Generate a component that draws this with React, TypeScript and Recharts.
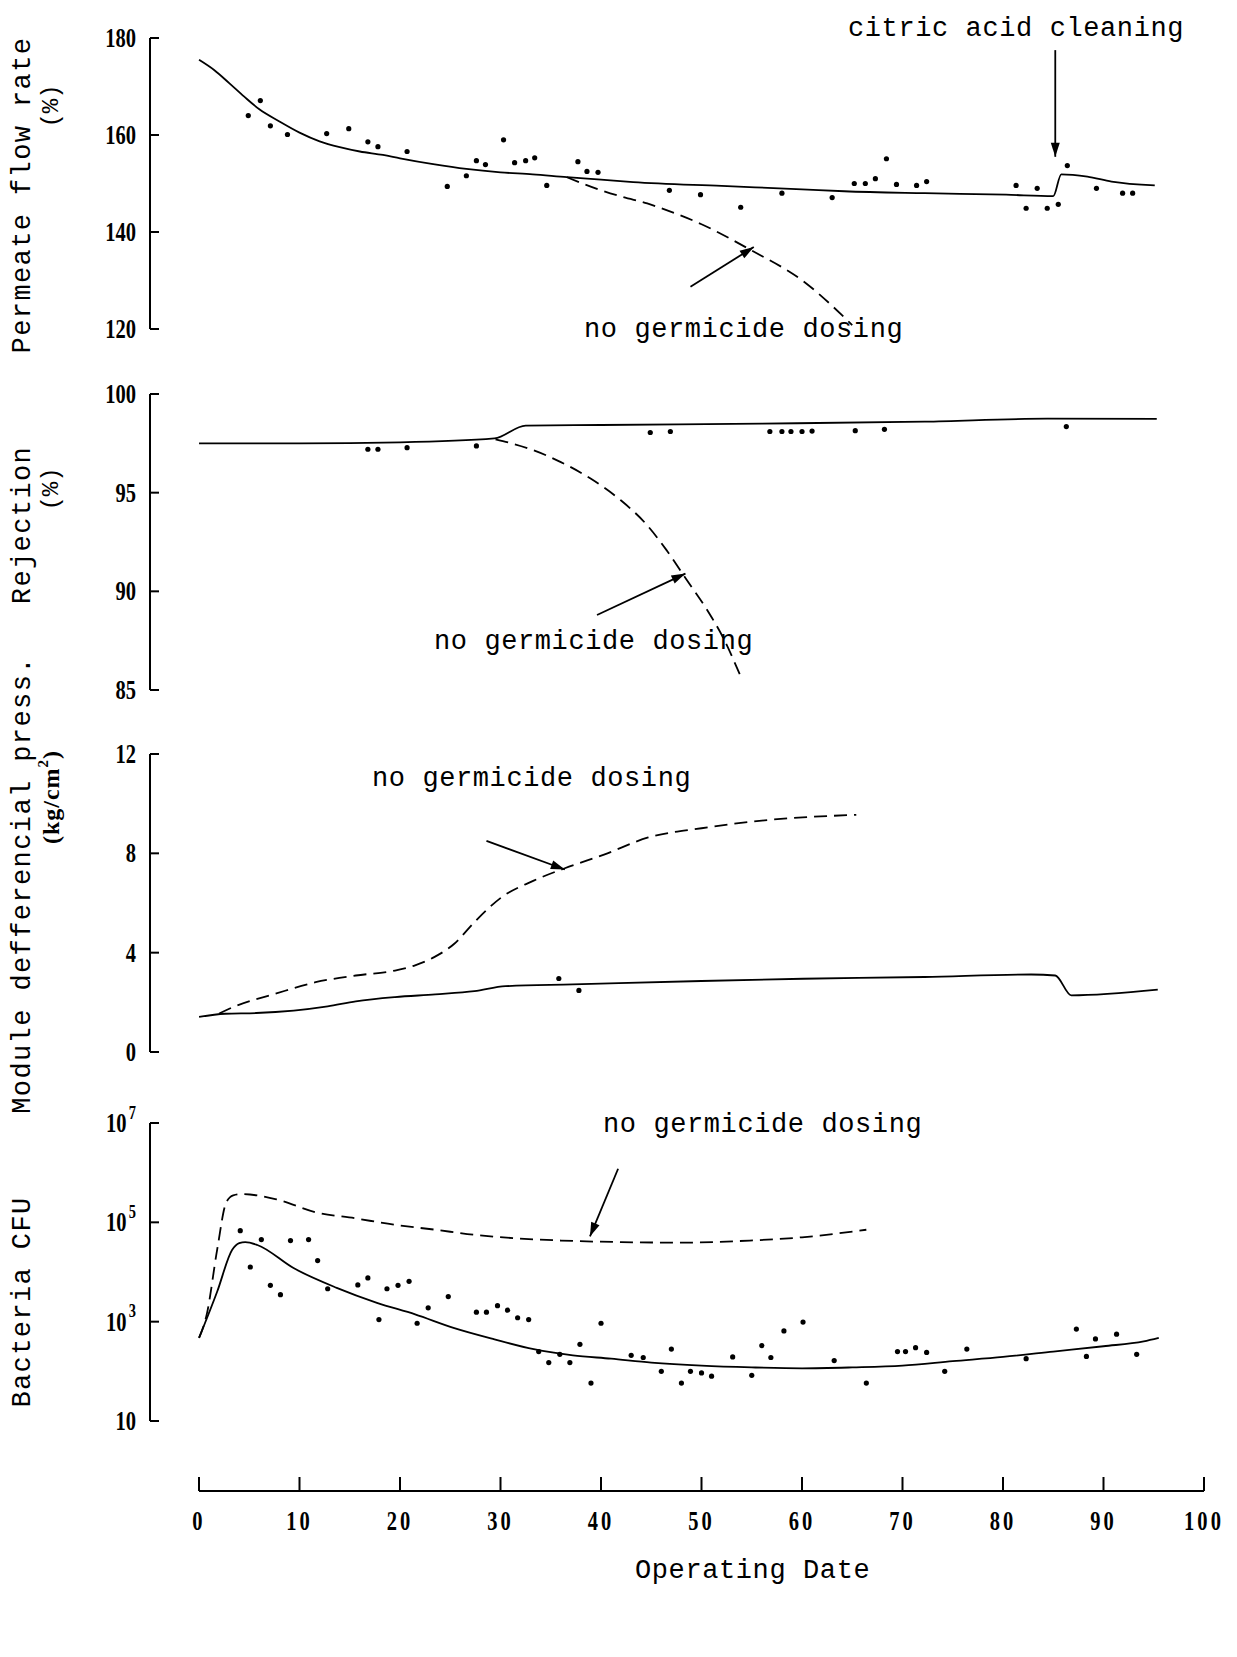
import React from "react";
import { ComposedChart, LineChart, Line, Scatter, XAxis, YAxis, ReferenceLine } from "recharts";

// [day, value] pairs
const flowSolid: [number, number][] = [[0,175.5],[1.5,173.4],[3,170.7],[4.5,167.9],[6,165.3],[8,162.8],[10,160.5],[12,158.7],[14,157.5],[16,156.6],[18.3,155.9],[20,155.2],[23.3,154],[26.6,153],[30,152.3],[33.2,151.9],[36.6,151.3],[40,150.8],[43.2,150.3],[52,149.5],[60,148.8],[64.2,148.4],[72.2,148],[80.3,147.7],[85,147.4],[85.8,151.9],[88.4,151.4],[90.8,150.4],[95.1,149.6]];
const flowNoDose: [number, number][] = [[36.6,151.3],[40,148.6],[42.2,147.2],[44.6,145.9],[46,144.9],[50,141.6],[54.8,136.4],[60.1,129.9],[65,120.8]];
const flowDots: [number, number][] = [[4.9,164],[6.1,167.1],[7.1,161.9],[8.8,160.1],[12.7,160.3],[14.9,161.3],[16.8,158.6],[17.8,157.6],[20.7,156.6],[24.7,149.4],[26.6,151.6],[27.6,154.7],[28.5,153.9],[30.3,159],[31.4,154.3],[32.5,154.7],[33.4,155.3],[34.6,149.6],[37.7,154.5],[38.6,152.5],[39.7,152.3],[46.8,148.6],[49.9,147.7],[53.9,145.1],[58,148],[63,147.1],[65.2,150],[66.3,150],[67.3,151],[68.4,155.1],[69.4,149.8],[71.4,149.6],[72.4,150.4],[81.3,149.6],[82.3,144.9],[83.4,149],[84.4,144.9],[85.5,145.7],[86.4,153.7],[89.3,149],[91.9,148],[92.9,148]];

const rejSolid: [number, number][] = [[0,97.5],[10,97.5],[20,97.55],[29.4,97.75],[32.5,98.4],[40,98.43],[56,98.5],[72.2,98.6],[84.4,98.75],[95.3,98.74]];
const rejNoDose: [number, number][] = [[29.5,97.7],[33,97.2],[36,96.55],[39,95.7],[42,94.6],[44.5,93.4],[46.5,92.1],[48.5,90.6],[50.5,89.1],[52.2,87.6],[53.8,85.8]];
const rejDots: [number, number][] = [[16.8,97.2],[17.8,97.2],[20.7,97.28],[27.6,97.37],[44.9,98.05],[46.9,98.1],[56.8,98.1],[58,98.1],[58.9,98.1],[60,98.1],[61,98.12],[65.3,98.14],[68.2,98.21],[86.3,98.35]];

const dpSolid: [number, number][] = [[0,1.41],[2.6,1.54],[5.7,1.57],[12.8,1.84],[15.6,2.04],[19.5,2.21],[23.5,2.32],[27.4,2.45],[30.5,2.65],[37.2,2.72],[50,2.86],[60.1,2.95],[72.2,3.02],[82.8,3.12],[85.2,3.08],[86.8,2.28],[95.4,2.51]];
const dpNoDose: [number, number][] = [[2,1.55],[3.4,1.81],[7.7,2.36],[11.6,2.81],[15.6,3.08],[19.5,3.28],[21.5,3.49],[23.4,3.82],[25.4,4.36],[27.4,5.23],[30.1,6.23],[33.3,6.9],[36.4,7.4],[40.3,7.95],[44.7,8.64],[50,9.01],[56,9.32],[65.4,9.55]];
const dpDots: [number, number][] = [[35.8,2.96],[37.8,2.48]];

const cfuSolid: [number, number][] = [[0,470],[1.8,4000],[3.3,28000],[4,38000],[4.6,40000],[5.8,35000],[9.4,12000],[13.7,4800],[17.7,2400],[21.5,1400],[25.4,740],[29.4,440],[33.3,280],[37.2,210],[41,180],[45,150],[50,130],[55,120],[60,115],[65,120],[70,130],[75,160],[80,195],[85,250],[90,320],[94,400],[95.5,470]];
const cfuNoDose: [number, number][] = [[0,470],[0.8,1500],[1.8,28000],[2.7,250000],[3.4,350000],[4.2,370000],[7.7,290000],[11.6,160000],[15.6,120000],[19.5,89000],[23.5,71000],[27.4,56000],[31.3,48000],[36,43000],[42,40000],[48,39000],[54.8,43000],[60,50000],[66.4,71000]];
const cfuDots: [number, number][] = [[4.1,68000],[5.1,12600],[6.2,45000],[7.1,5400],[8.1,3500],[9.1,43000],[10.9,45000],[11.8,17000],[12.8,4600],[15.8,5500],[16.8,7600],[17.9,1100],[18.7,4600],[19.8,5400],[20.9,6500],[21.7,930],[22.8,1900],[24.8,3200],[27.6,1550],[28.6,1550],[29.7,2100],[30.7,1700],[31.7,1200],[32.8,1100],[33.8,250],[34.8,150],[35.9,220],[36.9,150],[37.9,350],[39,58],[40,930],[43,210],[44.2,190],[46,100],[47,280],[48,58],[48.9,100],[50,93],[51,80],[53.1,195],[55,83],[56,330],[56.9,190],[58.2,650],[60.1,980],[63.2,165],[66.4,58],[69.5,250],[70.3,250],[71.3,300],[72.4,240],[74.2,100],[76.4,280],[82.3,180],[87.3,710],[88.3,200],[89.2,450],[91.3,560],[93.3,220]];

const xTicks = [0, 10, 20, 30, 40, 50, 60, 70, 80, 90, 100];
const flowTicks = [120, 140, 160, 180];
const rejTicks = [85, 90, 95, 100];
const dpTicks = [0, 4, 8, 12];
const cfuTicks = [10, 1000, 100000, 10000000];

const pts = (a: [number, number][]) => a.map(([d, v]) => ({ d, v }));

const MONO = "'Liberation Mono', 'DejaVu Sans Mono', monospace";
const NUM = "'Liberation Serif', 'DejaVu Serif', serif";

function NumTick(props: any) {
  const { x, y, payload, textAnchor, spacing } = props;
  return (
    <text transform={`translate(${x},${y}) scale(0.76,1)`} textAnchor={textAnchor} dominantBaseline="central" fill="#000" fontSize={27} fontFamily={NUM} fontWeight={700} letterSpacing={spacing || 0}>
      {payload.value}
    </text>
  );
}

function LogTick(props: any) {
  const { x, y, payload } = props;
  const e = Math.round(Math.log10(payload.value));
  return (
    <text transform={`translate(${x},${y}) scale(0.76,1)`} textAnchor="end" dominantBaseline="central" fill="#000" fontSize={27} fontFamily={NUM} fontWeight={700}>
      10
      {e > 1 && (
        <tspan dx={3} dy={-11} fontSize={19}>
          {e}
        </tspan>
      )}
    </text>
  );
}

function arrowShape(p: any) {
  const { x1, y1, x2, y2 } = p;
  const a = Math.atan2(y2 - y1, x2 - x1);
  const L = 14, W = 4.5;
  const bx = x2 - L * Math.cos(a), by = y2 - L * Math.sin(a);
  const poly = `${x2},${y2} ${bx - W * Math.sin(a)},${by + W * Math.cos(a)} ${bx + W * Math.sin(a)},${by - W * Math.cos(a)}`;
  return (
    <g>
      <line x1={x1} y1={y1} x2={x2} y2={y2} stroke="#000" strokeWidth={1.8} />
      <polygon points={poly} fill="#000" />
    </g>
  );
}

const dotShape = (p: any) => <circle cx={p.cx} cy={p.cy} r={2.6} fill="#000" />;

// plot area spans top+30 .. top+height-30
function Panel(props: {
  top: number;
  height: number;
  domain: [number, number];
  ticks: number[];
  log?: boolean;
  children: React.ReactNode;
}) {
  return (
    <div style={{ position: "absolute", left: 0, top: props.top }}>
      <ComposedChart width={1237} height={props.height} margin={{ top: 30, right: 33, bottom: 30, left: 0 }}>
        <XAxis dataKey="d" type="number" domain={[-4.88, 100]} hide allowDataOverflow />
        <YAxis
          dataKey="v"
          type="number"
          width={150}
          domain={props.domain}
          ticks={props.ticks}
          scale={props.log ? "log" : "linear"}
          interval={0}
          allowDataOverflow
          axisLine={{ stroke: "#000", strokeWidth: 2 }}
          tickLine={{ stroke: "#000", strokeWidth: 2 }}
          tickSize={-9}
          tickMargin={23}
          tick={props.log ? <LogTick /> : <NumTick />}
        />
        {props.children}
      </ComposedChart>
    </div>
  );
}

const solid = (a: [number, number][], k: string) => (
  <Line key={k} data={pts(a)} dataKey="v" type="monotone" stroke="#000" strokeWidth={1.8} dot={false} isAnimationActive={false} />
);
const dashed = (a: [number, number][], k: string) => (
  <Line key={k} data={pts(a)} dataKey="v" type="monotone" stroke="#000" strokeWidth={1.8} strokeDasharray="13 7" dot={false} isAnimationActive={false} />
);
const dots = (a: [number, number][], k: string) => (
  <Scatter key={k} data={pts(a)} dataKey="v" shape={dotShape} isAnimationActive={false} />
);
const arrow = (from: [number, number], to: [number, number], k: string) => (
  <ReferenceLine key={k} segment={[{ x: from[0], y: from[1] }, { x: to[0], y: to[1] }]} ifOverflow="visible" shape={arrowShape} />
);

const textStyle = { fontFamily: MONO, fontSize: 27, fill: "#000", letterSpacing: 0.6 } as const;

export default function App() {
  return (
    <div style={{ position: "absolute", left: 0, top: 0, width: 1237, height: 1657, background: "#fff" }}>
      <Panel top={8} height={351} domain={[120, 180]} ticks={flowTicks}>
        {solid(flowSolid, "s")}
        {dashed(flowNoDose, "n")}
        {dots(flowDots, "p")}
        {arrow([48.9, 128.7], [55.2, 136.9], "a")}
        {arrow([85.2, 177.5], [85.2, 155.5], "c")}
      </Panel>
      <Panel top={364} height={356} domain={[85, 100]} ticks={rejTicks}>
        {solid(rejSolid, "s")}
        {dashed(rejNoDose, "n")}
        {dots(rejDots, "p")}
        {arrow([39.6, 88.8], [48.4, 90.9], "a")}
      </Panel>
      <Panel top={724} height={358} domain={[0, 12]} ticks={dpTicks}>
        {solid(dpSolid, "s")}
        {dashed(dpNoDose, "n")}
        {dots(dpDots, "p")}
        {arrow([28.6, 8.5], [36.4, 7.35], "a")}
      </Panel>
      <Panel top={1093} height={358} domain={[10, 10000000]} ticks={cfuTicks} log>
        {solid(cfuSolid, "s")}
        {dashed(cfuNoDose, "n")}
        {dots(cfuDots, "p")}
        {arrow([41.7, 1200000], [38.9, 52000], "a")}
      </Panel>
      <div style={{ position: "absolute", left: 0, top: 1441 }}>
        <LineChart width={1237} height={110} data={xTicks.map((d) => ({ d }))} margin={{ top: 0, right: 33, bottom: 0, left: 199 }}>
          <XAxis
            dataKey="d"
            type="number"
            domain={[0, 100]}
            ticks={xTicks}
            interval={0}
            height={60}
            axisLine={{ stroke: "#000", strokeWidth: 2 }}
            tickLine={{ stroke: "#000", strokeWidth: 2 }}
            tickSize={-14}
            tickMargin={44}
            tick={<NumTick spacing={4} />}
          />
        </LineChart>
      </div>
      <svg width={1237} height={1657} style={{ position: "absolute", left: 0, top: 0, pointerEvents: "none" }}>
        <g style={{ ...textStyle, letterSpacing: 1.4 }}>
          <text transform="translate(23,195) rotate(-90)" textAnchor="middle" dominantBaseline="central">Permeate flow rate</text>
          <text transform="translate(51,106) rotate(-90)" textAnchor="middle" dominantBaseline="central" fontSize={24} letterSpacing={0}>(%)</text>
          <text transform="translate(23,525) rotate(-90)" textAnchor="middle" dominantBaseline="central">Rejection</text>
          <text transform="translate(51,489) rotate(-90)" textAnchor="middle" dominantBaseline="central" fontSize={24} letterSpacing={0}>(%)</text>
          <text transform="translate(23,885) rotate(-90)" textAnchor="middle" dominantBaseline="central">Module defferencial press.</text>
          <text transform="translate(51,797) rotate(-90)" textAnchor="middle" dominantBaseline="central" fontSize={24} letterSpacing={1} fontFamily={NUM} fontWeight={700}>
            (kg/cm<tspan dy={-8} fontSize={15}>2</tspan><tspan dy={8}>)</tspan>
          </text>
          <text transform="translate(23,1302) rotate(-90)" textAnchor="middle" dominantBaseline="central">Bacteria CFU</text>
        </g>
        <g style={textStyle}>
          <text x={848} y={29} dominantBaseline="central">citric acid cleaning</text>
          <text x={584} y={330} dominantBaseline="central">no germicide dosing</text>
          <text x={434} y={642} dominantBaseline="central">no germicide dosing</text>
          <text x={372} y={779} dominantBaseline="central">no germicide dosing</text>
          <text x={603} y={1125} dominantBaseline="central">no germicide dosing</text>
          <text x={635} y={1571} dominantBaseline="central">Operating Date</text>
        </g>
      </svg>
    </div>
  );
}
